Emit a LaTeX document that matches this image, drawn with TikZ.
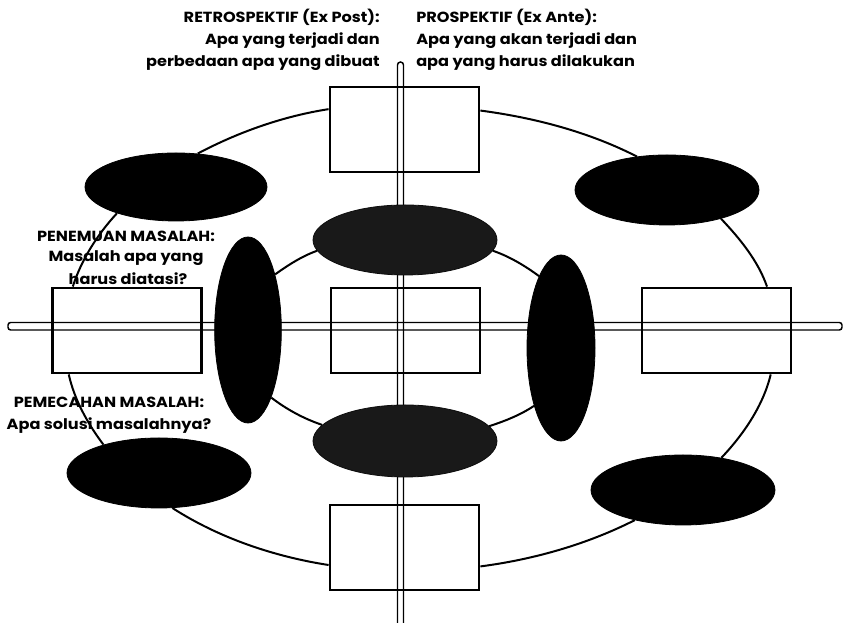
\documentclass[tikz,border=0pt]{standalone}
\usepackage{fontspec}
\newfontfamily\lab{Poppins}[FakeStretch=1.1]
\usetikzlibrary{shapes.geometric}
\begin{document}
\begin{tikzpicture}[x=0.75pt,y=0.75pt,
  box/.style={rectangle, draw=black, line width=2.1pt, fill=white, minimum width=111.75pt, minimum height=63.75pt, inner sep=0pt},
  blob/.style={ellipse, fill=black, draw=black, line width=0.6pt, inner sep=0pt},
  hblob/.style={blob, minimum width=138pt, minimum height=52.5pt},
  iblob/.style={hblob, fill=black!90, draw=black!95},
  vblob/.style={blob, minimum width=50pt, minimum height=139.5pt},
  ring/.style={line width=1.5pt, looseness=0.85},
  bar/.style={line width=1.1pt},
  lbl/.style={inner sep=0pt, font=\lab\bfseries\fontsize{11}{13}\selectfont}
]
\useasboundingbox (0,0) rectangle (843,623);
\fill[white] (0,0) rectangle (843,623);
\clip (0,0) rectangle (843,623);

% labels
\node[lbl, anchor=base east] (r1) at (380,600) {RETROSPEKTIF (Ex Post):};
\node[lbl, anchor=base east] (r2) at (380,578) {Apa yang terjadi dan};
\node[lbl, anchor=base east] (r3) at (380,556) {perbedaan apa yang dibuat};
\node[lbl, anchor=base west] (p1) at (416,600) {PROSPEKTIF (Ex Ante):};
\node[lbl, anchor=base west] (p2) at (416,578) {Apa yang akan terjadi dan};
\node[lbl, anchor=base west] (p3) at (416,556) {apa yang harus dilakukan};
\node[lbl, anchor=base] (n1) at (126,381) {PENEMUAN MASALAH:};
\node[lbl, anchor=base] (n2) at (126,361) {Masalah apa yang};
\node[lbl, anchor=base] (n3) at (128,338) {harus diatasi?};
\node[lbl, anchor=base] (s1) at (109,215) {PEMECAHAN MASALAH:};
\node[lbl, anchor=base] (s2) at (109,193) {Apa solusi masalahnya?};

% boxes
\node[box] (tbox) at (404.5,493.5) {};
\node[box] (cbox) at (405.5,292.5) {};
\node[box] (lbox) at (127,292.5) {};
\node[box] (rbox) at (716.5,292.5) {};
\node[box] (bbox) at (404.5,75.5) {};

% axes
\draw[bar] (397.5,-10) -- (397.5,558) arc[start angle=180, end angle=0, radius=3] -- (403.5,-10);
\draw[bar, rounded corners=2pt] (8,293) rectangle (842,300.5);

% dark ellipses
\node[hblob, minimum width=136.5pt, minimum height=51pt] (TL) at (176,436) {};
\node[hblob] (TR) at (667,433) {};
\node[hblob] (BL) at (159,150) {};
\node[hblob] (BR) at (683,133) {};
\node[iblob] (itop) at (405,383) {};
\node[iblob, minimum height=54pt] (ibot) at (405,182) {};
\node[vblob] (lv) at (248,293) {};
\node[vblob, minimum width=51pt] (rv) at (561,275) {};

% outer ring
\draw[ring] (tbox.14.5) to[out=-7.5, in=152.9] (TR.132);
\draw[ring] (TR.-28) to[out=-46.5, in=109.1] (rbox.41.6);
\draw[ring] (rbox.-39.1) to[out=-103.5, in=46.5] (BR.40.6);
\draw[ring] (BR.-148) to[out=-153.1, in=7.4] (bbox.-14.1);
\draw[ring] (bbox.193.4) to[out=171.2, in=-32.8] (BL.-69.6);
\draw[ring] (BL.153.4) to[out=127, in=-77.5] (lbox.-143.9);
\draw[ring] (lbox.141.8) to[out=72.2, in=-132.9] (TL.204.1);
\draw[ring] (TL.57.5) to[out=27.9, in=188.8] (tbox.165.8);

% inner ring
\draw[ring] (itop.-7.7) to[out=-19, in=143.6] (rv.107);
\draw[ring] (rv.-115.7) to[out=-146.2, in=17.9] (ibot.10.2);
\draw[ring] (ibot.169) to[out=161.5, in=-37.7] (lv.-71.8);
\draw[ring] (lv.64.2) to[out=35.6, in=199.6] (itop.187.9);
\end{tikzpicture}
\end{document}
